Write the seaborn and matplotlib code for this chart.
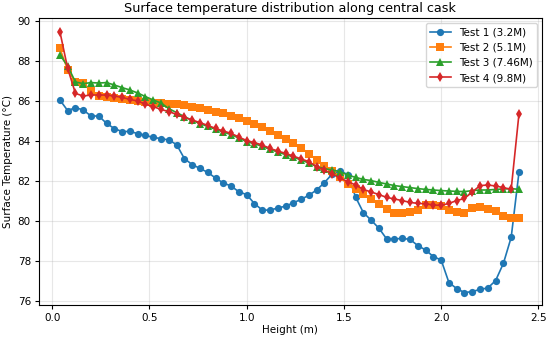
import matplotlib
matplotlib.use("Agg")
import matplotlib.pyplot as plt
import seaborn as sns
import pandas as pd

height = [0.04, 0.08, 0.12, 0.16, 0.20, 0.24, 0.28, 0.32, 0.36, 0.40,
          0.44, 0.48, 0.52, 0.56, 0.60, 0.64, 0.68, 0.72, 0.76, 0.80,
          0.84, 0.88, 0.92, 0.96, 1.00, 1.04, 1.08, 1.12, 1.16, 1.20,
          1.24, 1.28, 1.32, 1.36, 1.40, 1.44, 1.48, 1.52, 1.56, 1.60,
          1.64, 1.68, 1.72, 1.76, 1.80, 1.84, 1.88, 1.92, 1.96, 2.00,
          2.04, 2.08, 2.12, 2.16, 2.20, 2.24, 2.28, 2.32, 2.36, 2.40]

test1 = [86.05, 85.52, 85.67, 85.55, 85.25, 85.25, 84.88, 84.62, 84.47, 84.48,
         84.37, 84.28, 84.18, 84.12, 84.05, 83.82, 83.12, 82.82, 82.63, 82.43,
         82.15, 81.9, 81.75, 81.46, 81.32, 80.87, 80.55, 80.54, 80.65, 80.74,
         80.91, 81.08, 81.29, 81.55, 81.92, 82.35, 82.5, 82.32, 81.2, 80.42,
         80.04, 79.64, 79.1, 79.1, 79.13, 79.08, 78.77, 78.55, 78.22, 78.05,
         76.92, 76.62, 76.42, 76.47, 76.58, 76.65, 77.02, 77.88, 79.18, 82.43]

test2 = [88.63, 87.55, 86.95, 86.88, 86.5, 86.25, 86.22, 86.17, 86.1, 86.05,
         86.0, 85.97, 85.92, 85.88, 85.85, 85.83, 85.78, 85.72, 85.65, 85.57,
         85.47, 85.38, 85.25, 85.14, 85.0, 84.83, 84.68, 84.48, 84.3, 84.1,
         83.88, 83.65, 83.37, 83.05, 82.75, 82.48, 82.2, 81.83, 81.58, 81.33,
         81.1, 80.87, 80.62, 80.4, 80.42, 80.43, 80.57, 80.8, 80.8, 80.77,
         80.55, 80.45, 80.42, 80.63, 80.72, 80.62, 80.48, 80.23, 80.15, 80.17]

test3 = [88.3, 87.75, 86.95, 86.87, 86.92, 86.9, 86.92, 86.8, 86.67, 86.55,
         86.4, 86.22, 86.05, 85.9, 85.62, 85.42, 85.22, 85.03, 84.87, 84.73,
         84.58, 84.45, 84.32, 84.15, 83.97, 83.86, 83.74, 83.58, 83.45, 83.32,
         83.2, 83.05, 82.9, 82.72, 82.62, 82.55, 82.47, 82.3, 82.18, 82.08,
         82.02, 81.93, 81.85, 81.77, 81.72, 81.67, 81.62, 81.58, 81.55, 81.52,
         81.5, 81.48, 81.47, 81.52, 81.55, 81.55, 81.58, 81.6, 81.62, 81.58]

test4 = [89.47, 87.63, 86.38, 86.25, 86.3, 86.3, 86.3, 86.25, 86.18, 86.08,
         86.0, 85.84, 85.72, 85.58, 85.47, 85.33, 85.18, 85.05, 84.92, 84.78,
         84.63, 84.5, 84.38, 84.2, 84.02, 83.92, 83.8, 83.63, 83.5, 83.38,
         83.25, 83.1, 82.97, 82.72, 82.55, 82.36, 82.15, 81.97, 81.8, 81.58,
         81.45, 81.32, 81.18, 81.1, 81.02, 80.93, 80.88, 80.86, 80.8, 80.78,
         80.88, 81.02, 81.13, 81.45, 81.77, 81.8, 81.75, 81.67, 81.58, 85.35]

labels = ["Test 1 (3.2M)", "Test 2 (5.1M)", "Test 3 (7.46M)", "Test 4 (9.8M)"]
series = [test1, test2, test3, test4]
markers = ["o", "s", "^", "d"]
colors = ["#1f77b4", "#ff7f0e", "#2ca02c", "#d62728"]

fig, ax = plt.subplots(figsize=(5.5, 3.4), dpi=100)
for lab, vals, mk, col in zip(labels, series, markers, colors):
    df = pd.DataFrame({"Height (m)": height, "T": vals})
    sns.lineplot(data=df, x="Height (m)", y="T", marker=mk, color=col,
                 label=lab, ax=ax, linewidth=1.2, markersize=5.2,
                 markeredgewidth=0)

ax.set_title("Surface temperature distribution along central cask",
             fontsize=9.2, pad=4)
ax.set_xlabel("Height (m)", fontsize=7.5, labelpad=2)
ax.set_ylabel("Surface Temperature (°C)", fontsize=7.5, labelpad=3)
ax.tick_params(labelsize=7.5, length=3, pad=2.5)
ax.set_xticks([0.0, 0.5, 1.0, 1.5, 2.0, 2.5])
ax.set_yticks([76, 78, 80, 82, 84, 86, 88, 90])
ax.set_xlim(-0.07, 2.52)
ax.set_ylim(75.8, 90.15)
ax.grid(True, alpha=0.3)
ax.legend(loc="upper right", fontsize=7.5)
fig.subplots_adjust(left=0.07, right=0.986, top=0.947, bottom=0.103)
fig.savefig("out.png", dpi=100)
